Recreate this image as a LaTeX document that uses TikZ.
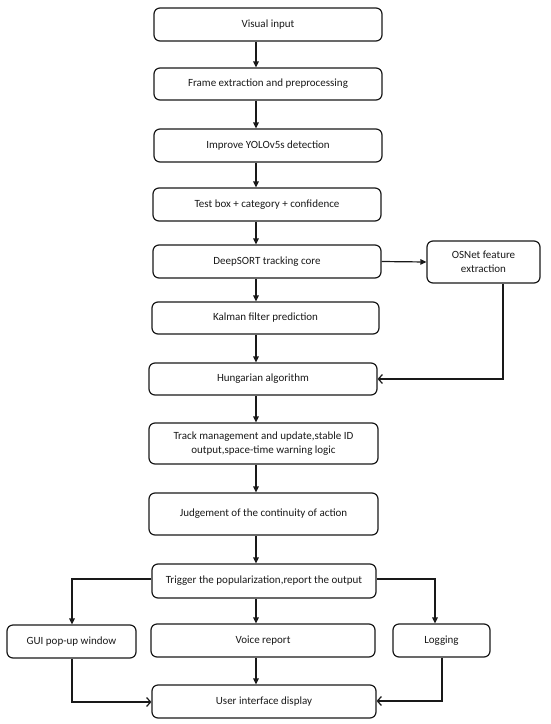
\documentclass[tikz,border=0pt]{standalone}
\usepackage{fontspec}
\setmainfont{Carlito}
\usetikzlibrary{arrows.meta}
\begin{document}
\begin{tikzpicture}[x=1pt,y=-1pt,
  box/.style={draw=black!90, line width=1.2pt, rounded corners=6pt, align=center,
    font=\fontsize{11}{14}\selectfont, text=black!90, inner sep=2pt},
  arr/.style={draw=black!90, line width=1.2pt, -{Triangle[length=6pt,width=5.5pt]}},
  oarr/.style={draw=black!90, line width=1.2pt, -{Straight Barb[length=4pt,width=9pt]}}]
\useasboundingbox (0,0) rectangle (550,724);
\coordinate (ax) at (256,0);
\node[box, minimum width=228, minimum height=33] (n1) at (268,24.5) {Visual input};
\node[box, minimum width=228, minimum height=32] (n2) at (268,84) {Frame extraction and preprocessing};
\node[box, minimum width=228, minimum height=33] (n3) at (268,145.5) {Improve YOLOv5s detection};
\node[box, minimum width=228, minimum height=33] (n4) at (267,204.5) {Test box + category + confidence};
\node[box, minimum width=228, minimum height=33] (n5) at (267,261.5) {DeepSORT tracking core};
\node[box, minimum width=113, minimum height=42] (n6) at (483.5,262) {OSNet feature\\extraction};
\node[box, minimum width=227, minimum height=32] (n7) at (265.5,318) {Kalman filter prediction};
\node[box, minimum width=228, minimum height=32] (n8) at (263,379) {Hungarian algorithm};
\node[box, minimum width=229, minimum height=41] (n9) at (263.5,443.5) {Track management and update,stable ID\\output,space-time warning logic};
\node[box, minimum width=229, minimum height=42] (n10) at (263.5,514) {Judgement of the continuity of action};
\node[box, minimum width=224, minimum height=34] (n11) at (264,581) {Trigger the popularization,report the output};
\node[box, minimum width=129, minimum height=33] (n12) at (71.5,641.5) {GUI pop-up window};
\node[box, minimum width=224, minimum height=33] (n13) at (263,640.5) {Voice report};
\node[box, minimum width=97, minimum height=33] (n14) at (441.5,640.5) {Logging};
\node[box, minimum width=224, minimum height=33] (n15) at (264,701.5) {User interface display};
\coordinate (c1) at (72,579);
\coordinate (c2) at (435,579);
\coordinate (c3) at (72,702);
\coordinate (c4) at (442,701);
\coordinate (c5) at (503,379);
\draw[arr] (n1.south -| ax) -- (n2.north -| ax);
\draw[arr] (n2.south -| ax) -- (n3.north -| ax);
\draw[arr] (n3.south -| ax) -- (n4.north -| ax);
\draw[arr] (n4.south -| ax) -- (n5.north -| ax);
\draw[arr] (n5.south -| ax) -- (n7.north -| ax);
\draw[arr] (n7.south -| ax) -- (n8.north -| ax);
\draw[arr] (n8.south -| ax) -- (n9.north -| ax);
\draw[arr] (n9.south -| ax) -- (n10.north -| ax);
\draw[arr] (n10.south -| ax) -- (n11.north -| ax);
\draw[arr] (n11.south -| ax) -- (n13.north -| ax);
\draw[arr] (n13.south -| ax) -- (n15.north -| ax);
\draw[arr] (n5.east) -- (n6.west);
\draw[oarr] (n6.south -| c5) -- (c5) -- (n8.east);
\draw[arr] (n11.west |- c1) -- (c1) -- (n12.north -| c1);
\draw[arr] (n11.east |- c2) -- (c2) -- (n14.north -| c2);
\draw[oarr] (n12.south -| c3) -- (c3) -- (n15.west |- c3);
\draw[oarr] (n14.south -| c4) -- (c4) -- (n15.east |- c4);
\end{tikzpicture}
\end{document}
